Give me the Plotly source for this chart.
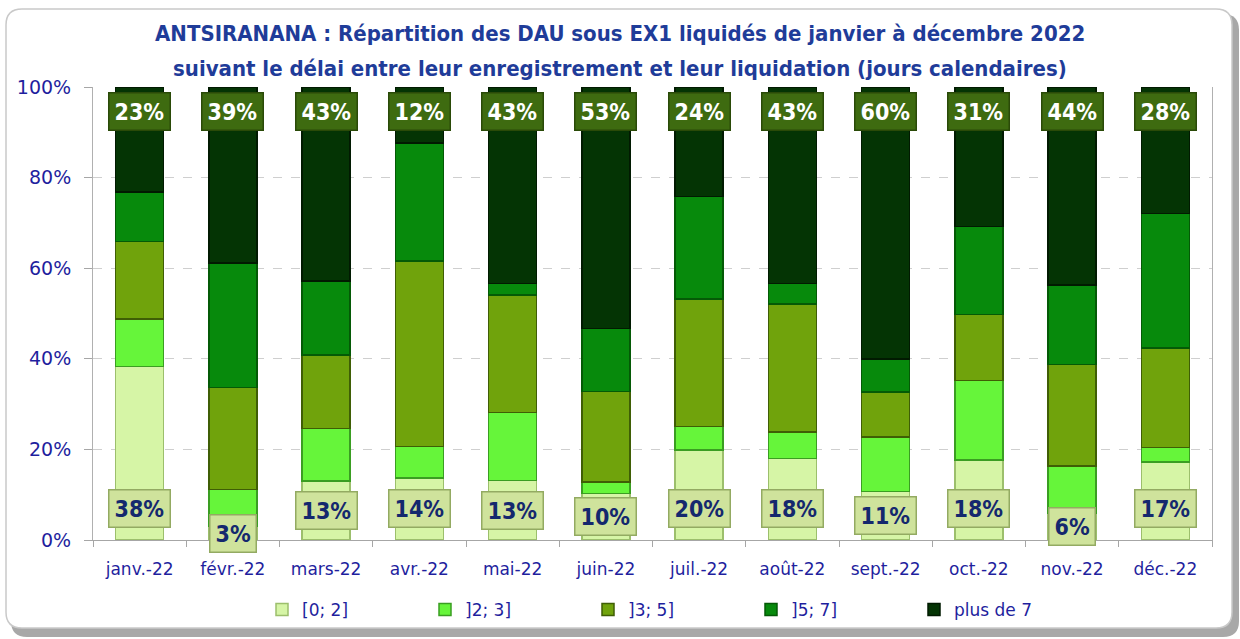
import plotly.graph_objects as go

# ---------------- data ----------------
months = ["janv.-22", "févr.-22", "mars-22", "avr.-22", "mai-22", "juin-22",
          "juil.-22", "août-22", "sept.-22", "oct.-22", "nov.-22", "déc.-22"]
series_names = ["[0; 2]", "]2; 3]", "]3; 5]", "]5; 7]", "plus de 7"]
v_0_2 = [38.3, 3.0, 13.0, 13.7, 13.1, 10.3, 19.9, 18.0, 10.7, 17.7, 6.0, 17.2]
v_2_3 = [10.5, 8.1, 11.6, 6.9, 15.1, 2.5, 5.2, 5.8, 12.0, 17.5, 10.3, 3.2]
v_3_5 = [17.1, 22.6, 16.2, 41.0, 25.9, 20.0, 28.1, 28.3, 10.0, 14.6, 22.4, 22.0]
v_5_7 = [10.9, 27.5, 16.4, 26.0, 2.5, 13.9, 22.6, 4.5, 7.3, 19.4, 17.6, 29.7]
v_7p = [23.2, 38.8, 42.8, 12.4, 43.4, 53.3, 24.2, 43.4, 60.0, 30.8, 43.7, 27.9]
y_ticks = [0, 20, 40, 60, 80, 100]
y_tick_text = ["0%", "20%", "40%", "60%", "80%", "100%"]

title_line1 = "ANTSIRANANA : Répartition des DAU sous EX1 liquidés de janvier à décembre 2022"
title_line2 = "suivant le délai entre leur enregistrement et leur liquidation (jours calendaires)"

# ---------------- styles ----------------
fills = ["#D6F5A6", "#66F53A", "#70A30C", "#078A0C", "#043404"]
edges = ["#9CBF6C", "#3A9E22", "#3F5E05", "#045A06", "#011A01"]
navy = "#1F1F9E"
title_col = "#1F3C99"
cond = "DejaVu Sans Condensed, DejaVu Sans, sans-serif"

W, H = 1240, 639
L, R, T, B = 93, 28, 87, 99
PW, PH = W - L - R, H - T - B


def pp(x, y):
    return (x - L) / PW, (H - B - y) / PH


def rounded_path(x0, y0, x1, y1, r):
    def P(x, y):
        a, b = pp(x, y)
        return f"{a:.5f},{b:.5f}"
    return (f"M{P(x0 + r, y0)} L{P(x1 - r, y0)} Q{P(x1, y0)} {P(x1, y0 + r)} "
            f"L{P(x1, y1 - r)} Q{P(x1, y1)} {P(x1 - r, y1)} "
            f"L{P(x0 + r, y1)} Q{P(x0, y1)} {P(x0, y1 - r)} "
            f"L{P(x0, y0 + r)} Q{P(x0, y0)} {P(x0 + r, y0)} Z")


fig = go.Figure()
for name, vals, fc, ec in zip(series_names, [v_0_2, v_2_3, v_3_5, v_5_7, v_7p], fills, edges):
    fig.add_trace(go.Bar(
        x=months, y=vals, name=name,
        marker=dict(color=fc, line=dict(color=ec, width=1.5)),
        hoverinfo="x+y+name",
    ))

annotations = []
for m, v in zip(months, v_0_2):
    annotations.append(dict(
        x=m, y=min(v / 2, 7), xref="x", yref="y", showarrow=False,
        text=f"<b>{round(v)}%</b>", font=dict(family=cond, size=23, color="#14286E"),
        bgcolor="#CFE39C", bordercolor="#93AA62", borderwidth=1.5, borderpad=5,
        yanchor="middle",
    ))
for m, v in zip(months, v_7p):
    annotations.append(dict(
        x=m, y=94.5, xref="x", yref="y", showarrow=False,
        text=f"<b>{round(v)}%</b>", font=dict(family=cond, size=23, color="white"),
        bgcolor="#3E6B10", bordercolor="#2A4A08", borderwidth=1.5, borderpad=5,
        yanchor="middle",
    ))
for txt, ypx in [(title_line1, 33), (title_line2, 68)]:
    annotations.append(dict(
        x=(620 - L) / PW, y=(H - B - ypx) / PH, xref="paper", yref="paper",
        showarrow=False, xanchor="center", yanchor="middle", text=f"<b>{txt}</b>",
        font=dict(family=cond, size=22, color=title_col),
    ))

shapes = [
    dict(type="path", xref="paper", yref="paper", layer="below",
         path=rounded_path(11, 14, 1239, 637, 16),
         fillcolor="#A8A8A8", line=dict(width=0)),
    dict(type="path", xref="paper", yref="paper", layer="below",
         path=rounded_path(6, 9, 1232, 628, 16),
         fillcolor="white", line=dict(color="#C9C9C9", width=1.5)),
]

fig.update_layout(
    width=W, height=H,
    barmode="stack", bargap=0.485,
    paper_bgcolor="white", plot_bgcolor="rgba(0,0,0,0)",
    margin=dict(l=L, r=R, t=T, b=B, autoexpand=False),
    showlegend=True,
    legend=dict(orientation="h", x=(262 - L) / PW, xanchor="left",
                y=(H - B - 610) / PH, yanchor="middle",
                traceorder="normal", entrywidth=118, entrywidthmode="pixels",
                font=dict(family="DejaVu Sans, sans-serif", size=17, color=navy),
                bgcolor="rgba(0,0,0,0)"),
    xaxis=dict(showline=True, linecolor="#A6A6A6", linewidth=1,
               ticks="outside", tickson="boundaries", ticklen=6, tickcolor="#A6A6A6",
               ticklabelstandoff=14,
               tickfont=dict(family="DejaVu Sans, sans-serif", size=17, color=navy),
               showgrid=False, fixedrange=True),
    yaxis=dict(range=[0, 100], tickvals=y_ticks, ticktext=y_tick_text,
               showline=True, linecolor="#B0B0B0", linewidth=1, mirror=True,
               ticks="outside", ticklen=8, tickcolor="#A6A6A6",
               ticklabelstandoff=9,
               tickfont=dict(family="DejaVu Sans, sans-serif", size=19, color=navy),
               showgrid=True, gridcolor="#CFCFCF", griddash="dash", gridwidth=1,
               zeroline=False, fixedrange=True),
    annotations=annotations,
    shapes=shapes,
)

fig.write_html("out.html", config={"displayModeBar": False},
               post_script="document.body.style.margin='0';document.body.style.overflow='hidden';")
